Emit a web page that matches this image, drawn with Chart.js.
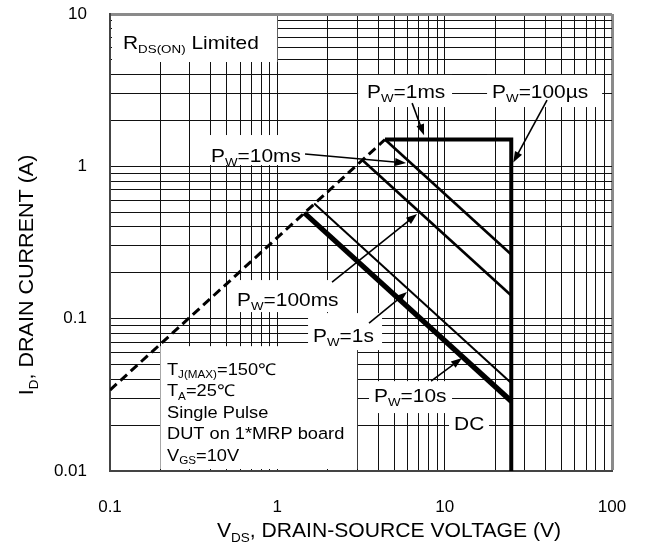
<!DOCTYPE html>
<html>
<head>
<meta charset="utf-8">
<script src="https://cdn.jsdelivr.net/npm/chart.js@4.4.1/dist/chart.umd.min.js"></script>
<style>
html, body { margin: 0; background: #fff; }
#wrap { width: 648px; height: 546px; }
</style>
</head>
<body>
<div id="wrap"><canvas id="soa"></canvas></div>
<script>
// tick labels
const xTicks = [0.1, 1, 10, 100];
const yTicks = [0.01, 0.1, 1, 10];

// SOA curves, V (x) and A (y)
const rdsV = [0.1, 4.4],        rdsI = [0.034, 1.5];
const us100V = [4.4, 25, 25],   us100I = [1.5, 1.5, 0.01];
const ms1V = [4.4, 25],         ms1I = [1.5, 0.264];
const ms10V = [3.22, 25],       ms10I = [1.1, 0.142];
const ms100V = [1.66, 25],      ms100I = [0.57, 0.0378];
const s10V = [1.472, 25],       s10I = [0.501, 0.0296];
const dcV = [1.445, 25],        dcI = [0.493, 0.0285];

const FONT = '"Liberation Sans", Arial, sans-serif';

function gridVals(lo, hi) {
  const out = [];
  for (let d = lo; d < hi * 0.999; d *= 10)
    for (let k = 1; k < 10; k++) out.push(+(d * k).toPrecision(6));
  out.push(hi);
  return out;
}
function pts(xs, ys) { return xs.map((v, i) => ({ x: v, y: ys[i] })); }
function ds(xs, ys, w, dash) {
  return { data: pts(xs, ys), showLine: true, borderColor: '#000', borderWidth: w,
           borderDash: dash || [], pointRadius: 0, fill: false, tension: 0 };
}

// annotations: text, white box, arrow (all in data units)
const notes = [
  { t: [['R'], ['DS(ON)', 1], [' Limited']], at: [0.1196, 6.55], box: [0.1, 1, 10, 4.84] },
  { t: [['P'], ['W', 1], ['=10ms']], at: [0.4016, 1.186], box: [0.37, 1.464, 1.605, 1.02], arrow: [1.464, 1.205, 5.88, 1.051] },
  { t: [['P'], ['W', 1], ['=1ms']], at: [3.437, 3.12], box: [3.04, 11.07, 3.98, 2.45], arrow: [6.39, 2.6, 7.53, 1.6] },
  { t: [['P'], ['W', 1], ['=100µs']], at: [19.2, 3.12], box: [17.92, 87.3, 3.98, 2.45], arrow: [40.9, 2.725, 25.7, 1.06] },
  { t: [['P'], ['W', 1], ['=100ms']], at: [0.574, 0.1345], box: [0.536, 2.539, 0.1792, 0.1105], arrow: [2.123, 0.1739, 6.84, 0.486] },
  { t: [['P'], ['W', 1], ['=1s']], at: [1.634, 0.078], box: [1.526, 4.225, 0.1088, 0.0622], arrow: [3.532, 0.0936, 5.958, 0.1495] },
  { t: [['P'], ['W', 1], ['=10s']], at: [3.785, 0.0315], box: [3.532, 11.07, 0.0389, 0.024], arrow: [8.29, 0.0389, 12.7, 0.0551] },
  { t: [['DC']], at: [11.38, 0.0206], box: [10.62, 18.42, 0.024, 0.016] }
];
const condBox = [0.2, 3.0, 0.066, 0.01];
const condAt = [0.219, 0.0467];
const condLines = [
  [['T'], ['J(MAX)', 1], ['=150℃']],
  [['T'], ['A', 1], ['=25℃']],
  [['Single Pulse']],
  [['DUT on 1*MRP board']],
  [['V'], ['GS', 1], ['=10V']]
];

function richWidth(ctx, parts, size) {
  let w = 0;
  for (const [t, sub] of parts) {
    ctx.font = (sub ? size * 0.64 : size) + 'px ' + FONT;
    w += ctx.measureText(t).width;
  }
  return w;
}
function rich(ctx, parts, x, y, size, sx) {
  ctx.save();
  ctx.translate(x, y);
  ctx.scale(sx, 1);
  ctx.textBaseline = 'alphabetic';
  ctx.textAlign = 'left';
  ctx.fillStyle = '#000';
  let cx = 0;
  for (const [t, sub] of parts) {
    const fs = sub ? size * 0.64 : size;
    ctx.font = fs + 'px ' + FONT;
    ctx.fillText(t, cx, sub ? size * 0.22 : 0);
    cx += ctx.measureText(t).width;
  }
  ctx.restore();
}
function arrow(ctx, x0, y0, x1, y1) {
  const a = Math.atan2(y1 - y0, x1 - x0), L = 11, H = 4;
  ctx.save();
  ctx.strokeStyle = '#000'; ctx.fillStyle = '#000'; ctx.lineWidth = 1.6;
  ctx.beginPath();
  ctx.moveTo(x0, y0);
  ctx.lineTo(x1 - L * Math.cos(a) * 0.8, y1 - L * Math.sin(a) * 0.8);
  ctx.stroke();
  ctx.beginPath();
  ctx.moveTo(x1, y1);
  ctx.lineTo(x1 - L * Math.cos(a) + H * Math.sin(a), y1 - L * Math.sin(a) - H * Math.cos(a));
  ctx.lineTo(x1 - L * Math.cos(a) - H * Math.sin(a), y1 - L * Math.sin(a) + H * Math.cos(a));
  ctx.closePath();
  ctx.fill();
  ctx.restore();
}

const notesPlugin = {
  id: 'notes',
  beforeDatasetsDraw(chart) {
    const { ctx, chartArea: a, scales: { x, y } } = chart;
    const X = v => x.getPixelForValue(v), Y = v => y.getPixelForValue(v);
    const clampBox = b => {
      const l = Math.max(X(b[0]), a.left + 2), r = Math.min(X(b[1]), a.right - 2);
      const t = Math.max(Y(b[2]), a.top + 2), btm = Math.min(Y(b[3]), a.bottom - 2);
      return [l, t, r - l, btm - t];
    };
    ctx.save();
    ctx.fillStyle = '#fff';
    notes.forEach(n => ctx.fillRect(...clampBox(n.box)));
    ctx.fillRect(...clampBox(condBox));
    ctx.restore();
    const S = 18.5, SX = 1.13;
    notes.forEach(n => rich(ctx, n.t, X(n.at[0]), Y(n.at[1]) + 0.36 * S, S, SX));
    const CS = 16.3, cx = X(condAt[0]), cy = Y(condAt[1]);
    condLines.forEach((ln, i) => rich(ctx, ln, cx, cy + i * 21.5 + 0.36 * CS, CS, 1.12));

    // axis titles
    const TS = 20.5;
    const xt = [['V'], ['DS', 1], [', DRAIN-SOURCE VOLTAGE (V)']];
    const xw = richWidth(ctx, xt, TS) * 1.03;
    rich(ctx, xt, a.left + 279 - xw / 2, a.bottom + 59 + 0.36 * TS, TS, 1.03);
    const yt = [['I'], ['D', 1], [', DRAIN CURRENT (A)']];
    const yw = richWidth(ctx, yt, TS) * 1.05;
    ctx.save();
    ctx.translate(26 + 0.36 * TS, a.top + 261 + yw / 2);
    ctx.rotate(-Math.PI / 2);
    rich(ctx, yt, 0, 0, TS, 1.05);
    ctx.restore();
  },
  afterDatasetsDraw(chart) {
    const { ctx, scales: { x, y } } = chart;
    notes.filter(n => n.arrow).forEach(n => {
      const r = n.arrow;
      arrow(ctx, x.getPixelForValue(r[0]), y.getPixelForValue(r[1]),
                 x.getPixelForValue(r[2]), y.getPixelForValue(r[3]));
    });
  }
};

const gridColor = c => (c.tick && c.tick.value === c.scale.max) ? '#8a8a8a' : '#111';
const gridWidth = c => (c.tick && c.tick.value === c.scale.max) ? 3 : 1;

new Chart(document.getElementById('soa'), {
  type: 'scatter',
  data: {
    datasets: [
      ds(rdsV, rdsI, 3, [9, 5]),
      ds(us100V, us100I, 4),
      ds(ms1V, ms1I, 2.6),
      ds(ms10V, ms10I, 2.6),
      ds(ms100V, ms100I, 2),
      ds(s10V, s10I, 2.5),
      ds(dcV, dcI, 4.5)
    ]
  },
  options: {
    responsive: true, maintainAspectRatio: false, animation: false,
    layout: { padding: { left: 0, right: 36, top: 14, bottom: 0 } },
    plugins: { legend: { display: false }, tooltip: { enabled: false } },
    scales: {
      x: {
        type: 'logarithmic', min: 0.1, max: 100,
        afterBuildTicks: s => { s.ticks = gridVals(0.1, 100).map(v => ({ value: v })); },
        afterFit: s => { s.height = 75; s.paddingLeft = 0; s.paddingRight = 0; },
        ticks: { autoSkip: false, maxRotation: 0, padding: 26, color: '#000',
                 font: { family: FONT, size: 17 },
                 callback: v => xTicks.includes(v) ? String(v) : '' },
        grid: { color: gridColor, lineWidth: gridWidth, drawTicks: false },
        border: { color: '#444', width: 2 }
      },
      y: {
        type: 'logarithmic', min: 0.01, max: 10,
        afterBuildTicks: s => { s.ticks = gridVals(0.01, 10).map(v => ({ value: v })); },
        afterFit: s => { s.width = 110; s.paddingTop = 0; s.paddingBottom = 0; },
        ticks: { autoSkip: false, padding: 23, color: '#000',
                 font: { family: FONT, size: 17 },
                 callback: v => yTicks.includes(v) ? String(v) : '' },
        grid: { color: gridColor, lineWidth: gridWidth, drawTicks: false },
        border: { color: '#444', width: 2 }
      }
    }
  },
  plugins: [notesPlugin]
});
</script>
</body>
</html>
